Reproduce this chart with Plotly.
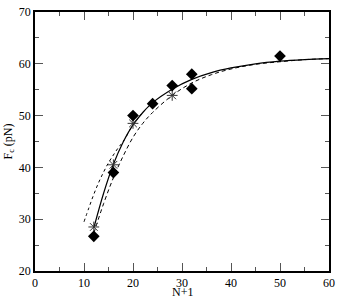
import plotly.graph_objects as go

# measured points
diamond_x = [12, 16, 20, 24, 28, 32, 32, 50]
diamond_y = [26.7, 39.0, 50.0, 52.3, 55.8, 58.0, 55.2, 61.5]

star_x = [12, 16, 20, 28]
star_y = [28.5, 40.5, 48.5, 53.9]

# fitted curves
solid_x = [12, 14, 16, 18, 20, 22, 24, 28, 32, 36, 40, 45, 50, 55, 60]
solid_y = [28.3, 35.0, 40.6, 44.9, 48.2, 50.6, 52.5, 55.1, 57.0, 58.3, 59.2, 60.0, 60.5, 60.8, 61.0]

dashed_x = [12, 14, 16, 18, 20, 22, 24, 28, 32, 36, 40, 45, 50, 55, 60]
dashed_y = [27.3, 33.0, 38.0, 42.2, 45.8, 48.5, 50.6, 53.9, 56.3, 57.9, 59.0, 59.9, 60.4, 60.8, 61.0]

dotted_x = [10, 11, 12, 13, 14, 15, 16, 17, 18, 20, 22, 24]
dotted_y = [29.5, 32.2, 34.8, 37.1, 39.1, 40.9, 42.4, 43.8, 45.0, 48.2, 50.6, 52.5]

fig = go.Figure()
fig.add_trace(go.Scatter(x=dotted_x, y=dotted_y, mode="lines", line_shape="spline",
                         line=dict(color="black", width=1, dash="dot")))
fig.add_trace(go.Scatter(x=dashed_x, y=dashed_y, mode="lines", line_shape="spline",
                         line=dict(color="black", width=1, dash="4px,3px")))
fig.add_trace(go.Scatter(x=solid_x, y=solid_y, mode="lines", line_shape="spline",
                         line=dict(color="black", width=1.2)))
fig.add_trace(go.Scatter(x=star_x, y=star_y, mode="markers",
                         marker=dict(symbol="asterisk-open", size=9, color="#333",
                                     line=dict(color="#333", width=1))))
fig.add_trace(go.Scatter(x=diamond_x, y=diamond_y, mode="markers",
                         marker=dict(symbol="diamond", size=9, color="black")))

font = dict(family="Liberation Serif, Times New Roman, serif", size=12, color="black")
axis = dict(showline=True, linecolor="black", linewidth=1.5, mirror="allticks",
            ticks="inside", ticklen=8, tickwidth=1, tickcolor="#555",
            showgrid=False, zeroline=False, tickfont=font)

fig.update_xaxes(range=[0, 60], dtick=10,
                 minor=dict(dtick=5, ticks="inside", ticklen=4, tickcolor="#555"), **axis)
fig.update_yaxes(range=[20, 70], dtick=10, title=dict(text="F<sub>c</sub> (pN)", font=font, standoff=4),
                 minor=dict(dtick=5, ticks="inside", ticklen=4, tickcolor="#555"), **axis)

fig.add_annotation(text="N+1", xref="paper", yref="paper", x=0.5, y=0,
                   xanchor="center", yanchor="top", yshift=-12, showarrow=False, font=font)

fig.update_layout(width=340, height=298, showlegend=False,
                  paper_bgcolor="white", plot_bgcolor="white",
                  margin=dict(l=35, r=7, t=5, b=27), font=font)

# drop the browser's default body margin so the chart sits at the page corner
fig.write_html("out.html", config={"displayModeBar": False},
               post_script="document.body.style.margin='0';")
